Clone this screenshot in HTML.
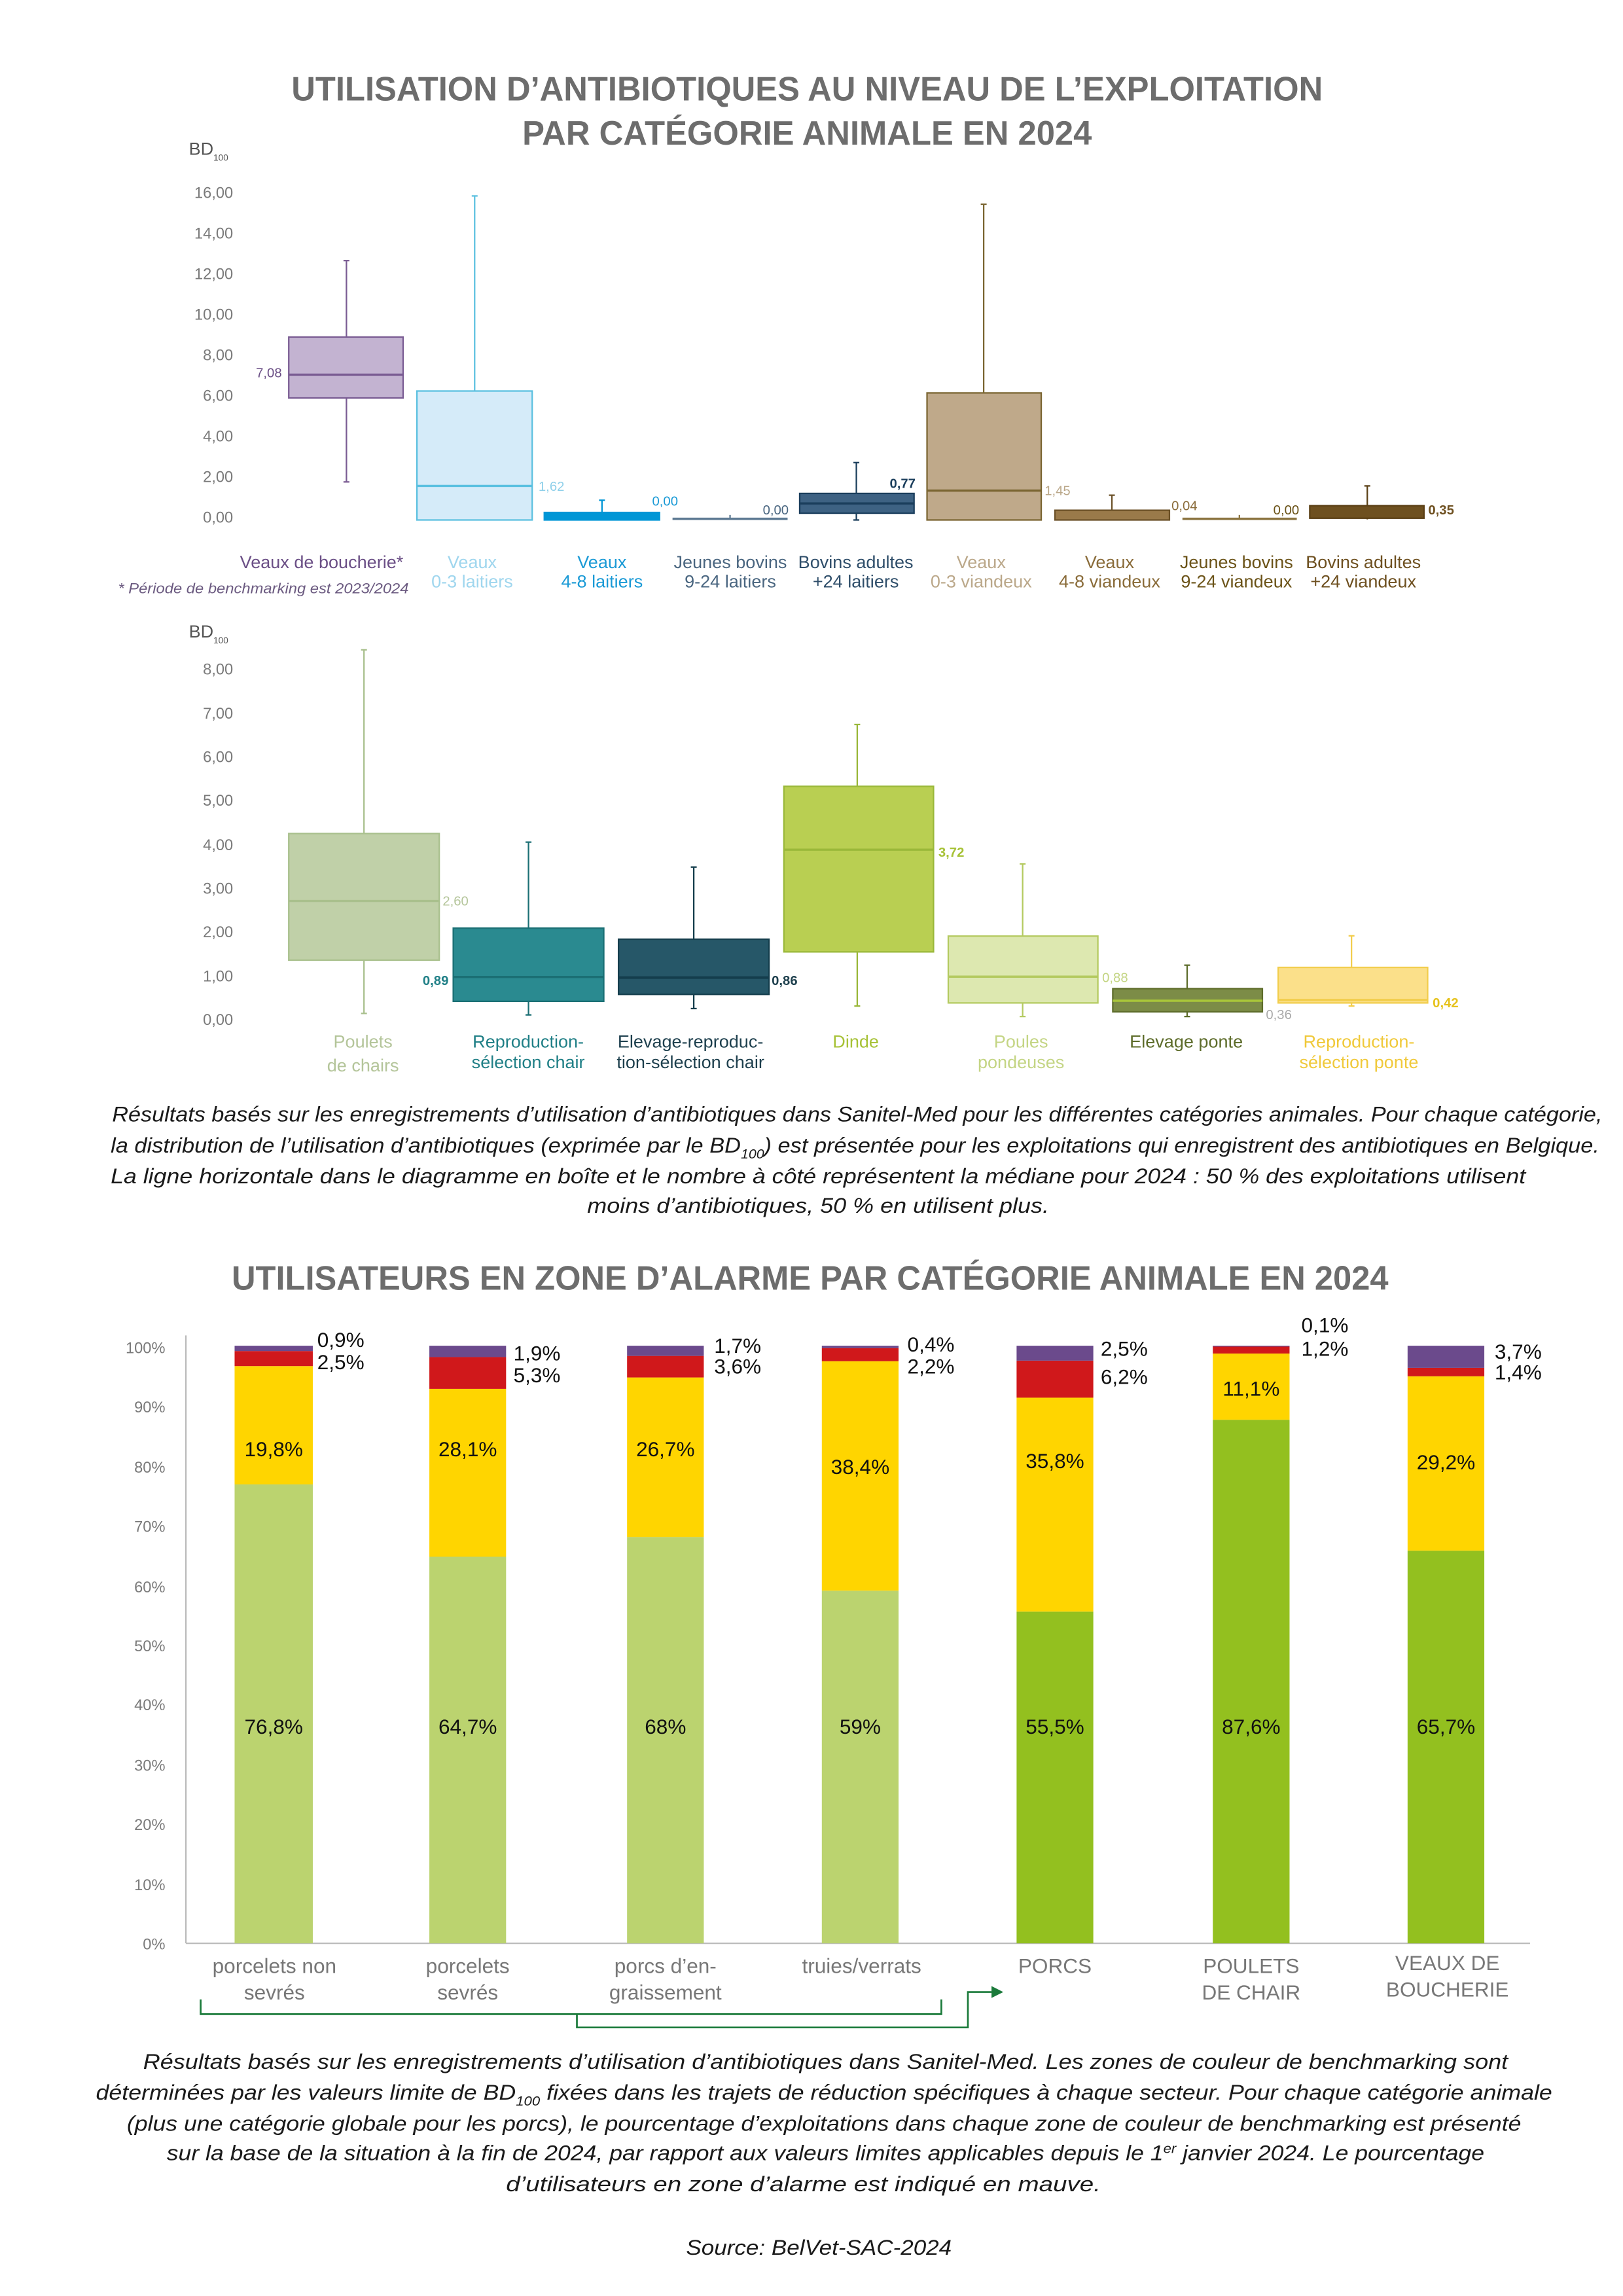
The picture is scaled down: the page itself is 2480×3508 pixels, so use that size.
<!DOCTYPE html>
<html><head><meta charset="utf-8"><style>
html,body{margin:0;padding:0;background:#fff;}
svg{display:block;}
text{font-family:"Liberation Sans Narrow","Liberation Sans",sans-serif;}
.t{font-weight:bold;fill:#6d6d6d;font-size:23px;}
.ax{font-size:10.5px;fill:#7a7a7a;}
.cl{font-size:12px;text-anchor:middle;}
.p{font-style:italic;font-size:14.5px;fill:#1a1a1a;}
.v{font-size:14px;fill:#111;text-anchor:middle;dominant-baseline:central;}
.vl{font-size:14px;fill:#111;dominant-baseline:central;}
.xl{font-size:14px;fill:#777;text-anchor:middle;}
.md{font-size:9px;dominant-baseline:central;}
</style></head><body>
<svg width="2480" height="3508" viewBox="0 0 1100 1556" preserveAspectRatio="none" xmlns="http://www.w3.org/2000/svg">
<rect width="1100" height="1556" fill="#fff"/>
<!-- Title 1 -->
<text class="t" x="547" y="68" text-anchor="middle" textLength="699" lengthAdjust="spacingAndGlyphs">UTILISATION D’ANTIBIOTIQUES AU NIVEAU DE L’EXPLOITATION</text>
<text class="t" x="547" y="98" text-anchor="middle" textLength="386" lengthAdjust="spacingAndGlyphs">PAR CATÉGORIE ANIMALE EN 2024</text>

<!-- Chart 1 axis -->
<text x="128" y="105" font-size="12" fill="#555">BD<tspan font-size="6" dy="4">100</tspan></text>
<g class="ax" text-anchor="end" dominant-baseline="central">
<text x="158" y="131">16,00</text><text x="158" y="158.5">14,00</text><text x="158" y="186">12,00</text><text x="158" y="213.5">10,00</text><text x="158" y="241">8,00</text><text x="158" y="268.5">6,00</text><text x="158" y="296">4,00</text><text x="158" y="323.5">2,00</text><text x="158" y="351">0,00</text>
</g>
<!-- Box1 -->
<g stroke="#7a5c93" stroke-width="1">
<line x1="234.8" y1="176.6" x2="234.8" y2="326.6"/><line x1="232.8" y1="176.6" x2="236.8" y2="176.6"/><line x1="232.8" y1="326.6" x2="236.8" y2="326.6"/>
<rect x="195.7" y="228.4" width="77.5" height="41.3" fill="#c3b3d1"/><line x1="195.7" y1="253.9" x2="273.2" y2="253.9" stroke-width="1.5"/></g>
<text class="md" x="191" y="253" text-anchor="end" fill="#6b4f86">7,08</text>
<!-- Box2 -->
<g stroke="#5bc0e0"><line x1="321.7" y1="132.8" x2="321.7" y2="265"/><line x1="319.7" y1="132.8" x2="323.7" y2="132.8"/>
<rect x="282.6" y="265" width="78.1" height="87.4" fill="#d5ebf9"/><line x1="282.6" y1="329.3" x2="360.7" y2="329.3" stroke-width="1.5"/></g>
<text class="md" x="365" y="330" fill="#8fd0ea">1,62</text>
<!-- Box3 -->
<g stroke="#0096d6"><line x1="408" y1="339" x2="408" y2="347"/><line x1="406" y1="339" x2="410" y2="339"/>
<rect x="368.9" y="347.3" width="78.1" height="5.1" fill="#0096d6"/></g>
<text class="md" x="442" y="340" fill="#1a9ad6">0,00</text>
<!-- Box4 -->
<rect x="455.8" y="350.8" width="78" height="1.6" fill="#5d7a93"/><line x1="494.8" y1="349" x2="494.8" y2="351" stroke="#5d7a93"/>
<text class="md" x="517" y="346" fill="#4a6680">0,00</text>
<!-- Box5 -->
<g stroke="#1b3e5c"><line x1="580.4" y1="313.5" x2="580.4" y2="352.4"/><line x1="578.4" y1="313.5" x2="582.4" y2="313.5"/><line x1="578.4" y1="352.4" x2="582.4" y2="352.4"/>
<rect x="542" y="334.4" width="77.5" height="13.4" fill="#3e6283"/><line x1="542" y1="341.2" x2="619.5" y2="341.2" stroke-width="1.5"/></g>
<text class="md" x="603" y="328" fill="#1b3e5c" font-weight="bold">0,77</text>
<!-- Box6 -->
<g stroke="#7a6531"><line x1="666.7" y1="138.4" x2="666.7" y2="266.3"/><line x1="664.7" y1="138.4" x2="668.7" y2="138.4"/>
<rect x="628.3" y="266.3" width="77.4" height="86.1" fill="#bfa98a"/><line x1="628.3" y1="332.5" x2="705.7" y2="332.5" stroke-width="1.5"/></g>
<text class="md" x="708" y="333" fill="#bba88a">1,45</text>
<!-- Box7 -->
<g stroke="#6b5128"><line x1="753.6" y1="335.6" x2="753.6" y2="345.8"/><line x1="751.6" y1="335.6" x2="755.6" y2="335.6"/>
<rect x="715" y="345.8" width="77.6" height="6.6" fill="#9a7a4a"/></g>
<text class="md" x="794" y="343" fill="#8a6c3a">0,04</text>
<!-- Box8 -->
<rect x="801.4" y="350.8" width="77.5" height="1.6" fill="#8b7440"/><line x1="840" y1="349" x2="840" y2="351" stroke="#8b7440"/>
<text class="md" x="863" y="346" fill="#6b5318">0,00</text>
<!-- Box9 -->
<g stroke="#5a3f14"><line x1="926.7" y1="329.3" x2="926.7" y2="352"/><line x1="924.7" y1="329.3" x2="928.7" y2="329.3"/>
<rect x="887.7" y="342.7" width="77.4" height="8.5" fill="#6e5020"/></g>
<text class="md" x="968" y="346" fill="#6e5020" font-weight="bold">0,35</text>
<!-- categories chart1 -->
<text class="cl" x="218" y="385" fill="#6b4f86">Veaux de boucherie*</text>
<text class="cl" x="320" y="385" fill="#9fd6ee">Veaux</text><text class="cl" x="320" y="398" fill="#9fd6ee">0-3 laitiers</text>
<text class="cl" x="408" y="385" fill="#1a9ad6">Veaux</text><text class="cl" x="408" y="398" fill="#1a9ad6">4-8 laitiers</text>
<text class="cl" x="495" y="385" fill="#4a6680">Jeunes bovins</text><text class="cl" x="495" y="398" fill="#4a6680">9-24 laitiers</text>
<text class="cl" x="580" y="385" fill="#2f4e6a">Bovins adultes</text><text class="cl" x="580" y="398" fill="#2f4e6a">+24 laitiers</text>
<text class="cl" x="665" y="385" fill="#bba88a">Veaux</text><text class="cl" x="665" y="398" fill="#bba88a">0-3 viandeux</text>
<text class="cl" x="752" y="385" fill="#8a6c3a">Veaux</text><text class="cl" x="752" y="398" fill="#8a6c3a">4-8 viandeux</text>
<text class="cl" x="838" y="385" fill="#6b5318">Jeunes bovins</text><text class="cl" x="838" y="398" fill="#6b5318">9-24 viandeux</text>
<text class="cl" x="924" y="385" fill="#6e5020">Bovins adultes</text><text class="cl" x="924" y="398" fill="#6e5020">+24 viandeux</text>
<text x="80" y="402" font-size="10" font-style="italic" fill="#6b5a80" textLength="197" lengthAdjust="spacingAndGlyphs">* Période de benchmarking est 2023/2024</text>

<!-- Chart 2 axis -->
<text x="128" y="432" font-size="12" fill="#555">BD<tspan font-size="6" dy="4">100</tspan></text>
<g class="ax" text-anchor="end" dominant-baseline="central">
<text x="158" y="454">8,00</text><text x="158" y="484">7,00</text><text x="158" y="513.5">6,00</text><text x="158" y="543">5,00</text><text x="158" y="573">4,00</text><text x="158" y="602.5">3,00</text><text x="158" y="632">2,00</text><text x="158" y="662">1,00</text><text x="158" y="691.5">0,00</text>
</g>
<!-- A -->
<g stroke="#a9c08d"><line x1="246.7" y1="440.4" x2="246.7" y2="686.8"/><line x1="244.7" y1="440.4" x2="248.7" y2="440.4"/><line x1="244.7" y1="686.8" x2="248.7" y2="686.8"/>
<rect x="195.7" y="564.9" width="102" height="85.8" fill="#c0d0a8"/><line x1="195.7" y1="610.6" x2="297.7" y2="610.6" stroke-width="1.5"/></g>
<text class="md" x="300" y="611" fill="#b4c59a">2,60</text>
<!-- B -->
<g stroke="#1b6f74"><line x1="358.2" y1="570.7" x2="358.2" y2="687.8"/><line x1="356.2" y1="570.7" x2="360.2" y2="570.7"/><line x1="356.2" y1="687.8" x2="360.2" y2="687.8"/>
<rect x="307.2" y="629" width="102" height="49.6" fill="#2a8a90"/><line x1="307.2" y1="662.1" x2="409.2" y2="662.1" stroke-width="1.5"/></g>
<text class="md" x="304" y="665" text-anchor="end" fill="#1f7f86" font-weight="bold">0,89</text>
<!-- C -->
<g stroke="#143d4c"><line x1="470.2" y1="587.6" x2="470.2" y2="683.5"/><line x1="468.2" y1="587.6" x2="472.2" y2="587.6"/><line x1="468.2" y1="683.5" x2="472.2" y2="683.5"/>
<rect x="419.2" y="636.5" width="102" height="37.4" fill="#265768"/><line x1="419.2" y1="662.5" x2="521.2" y2="662.5" stroke-width="1.8"/></g>
<text class="md" x="523" y="665" fill="#1d3f4d" font-weight="bold">0,86</text>
<!-- D -->
<g stroke="#9ab83a"><line x1="581" y1="491" x2="581" y2="681.8"/><line x1="579" y1="491" x2="583" y2="491"/><line x1="579" y1="681.8" x2="583" y2="681.8"/>
<rect x="531.3" y="532.9" width="101.4" height="112.2" fill="#b9cf52"/><line x1="531.3" y1="575.8" x2="632.7" y2="575.8" stroke-width="1.5"/></g>
<text class="md" x="636" y="578" fill="#a7c237" font-weight="bold">3,72</text>
<!-- E -->
<g stroke="#b4ca60"><line x1="693.1" y1="585.5" x2="693.1" y2="688.9"/><line x1="691.1" y1="585.5" x2="695.1" y2="585.5"/><line x1="691.1" y1="688.9" x2="695.1" y2="688.9"/>
<rect x="642.7" y="634.4" width="101.4" height="45.3" fill="#dde8b0"/><line x1="642.7" y1="661.9" x2="744.1" y2="661.9" stroke-width="1.5"/></g>
<text class="md" x="747" y="663" fill="#c4d584">0,88</text>
<!-- F -->
<g stroke="#5d6c2a"><line x1="804.6" y1="654.1" x2="804.6" y2="688.9"/><line x1="802.6" y1="654.1" x2="806.6" y2="654.1"/><line x1="802.6" y1="688.9" x2="806.6" y2="688.9"/>
<rect x="754.2" y="670" width="101.4" height="15.7" fill="#7c8c47"/><line x1="754.2" y1="678.2" x2="855.6" y2="678.2" stroke="#a9c63a" stroke-width="1.5"/></g>
<text class="md" x="858" y="688" fill="#aaaaaa">0,36</text>
<!-- G -->
<g stroke="#f2cd4c"><line x1="916" y1="634.2" x2="916" y2="681.8"/><line x1="914" y1="634.2" x2="918" y2="634.2"/><line x1="914" y1="681.8" x2="918" y2="681.8"/>
<rect x="866.3" y="655.6" width="101.3" height="24.1" fill="#fbe08a"/><line x1="866.3" y1="677.7" x2="967.6" y2="677.7" stroke-width="1.5"/></g>
<text class="md" x="971" y="680" fill="#e6c21c" font-weight="bold">0,42</text>
<!-- categories chart2 -->
<text class="cl" x="246" y="710" fill="#b4c59a">Poulets</text><text class="cl" x="246" y="726" fill="#b4c59a">de chairs</text>
<text class="cl" x="358" y="710" fill="#1f7f86">Reproduction-</text><text class="cl" x="358" y="724" fill="#1f7f86">sélection chair</text>
<text class="cl" x="468" y="710" fill="#1d3f4d" font-size="11">Elevage-reproduc-</text><text class="cl" x="468" y="724" fill="#1d3f4d" font-size="11">tion-sélection chair</text>
<text class="cl" x="580" y="710" fill="#a7c237">Dinde</text>
<text class="cl" x="692" y="710" fill="#c4d584">Poules</text><text class="cl" x="692" y="724" fill="#c4d584">pondeuses</text>
<text class="cl" x="804" y="710" fill="#5d6c2a">Elevage ponte</text>
<text class="cl" x="921" y="710" fill="#f0c93a">Reproduction-</text><text class="cl" x="921" y="724" fill="#f0c93a">sélection ponte</text>

<!-- Paragraph 1 -->
<text class="p" x="76" y="760" textLength="1010" lengthAdjust="spacingAndGlyphs">Résultats basés sur les enregistrements d’utilisation d’antibiotiques dans Sanitel-Med pour les différentes catégories animales. Pour chaque catégorie,</text>
<text class="p" x="75" y="781" textLength="1009" lengthAdjust="spacingAndGlyphs">la distribution de l’utilisation d’antibiotiques (exprimée par le BD<tspan font-size="9" dy="4">100</tspan><tspan dy="-4">) est présentée pour les exploitations qui enregistrent des antibiotiques en Belgique.</tspan></text>
<text class="p" x="75" y="802" textLength="959" lengthAdjust="spacingAndGlyphs">La ligne horizontale dans le diagramme en boîte et le nombre à côté représentent la médiane pour 2024 : 50 % des exploitations utilisent</text>
<text class="p" x="398" y="822" textLength="313" lengthAdjust="spacingAndGlyphs">moins d’antibiotiques, 50 % en utilisent plus.</text>

<!-- Title 2 -->
<text class="t" x="549" y="874" text-anchor="middle" textLength="784" lengthAdjust="spacingAndGlyphs">UTILISATEURS EN ZONE D’ALARME PAR CATÉGORIE ANIMALE EN 2024</text>

<!-- Chart 3 axes -->
<g class="ax" text-anchor="end" dominant-baseline="central">
<text x="112" y="914">100%</text><text x="112" y="954">90%</text><text x="112" y="995">80%</text><text x="112" y="1035">70%</text><text x="112" y="1076">60%</text><text x="112" y="1116">50%</text><text x="112" y="1156">40%</text><text x="112" y="1197">30%</text><text x="112" y="1237">20%</text><text x="112" y="1278">10%</text><text x="112" y="1318">0%</text>
</g>
<line x1="126" y1="905" x2="126" y2="1317" stroke="#bbb" stroke-width="1"/>
<line x1="126" y1="1317" x2="1037" y2="1317" stroke="#bbb" stroke-width="1"/>
<!-- bars -->
<g>
<rect x="159" y="1006" width="53" height="311" fill="#bbd36f"/><rect x="159" y="925.8" width="53" height="80.2" fill="#ffd500"/><rect x="159" y="915.6" width="53" height="10.2" fill="#d0181b"/><rect x="159" y="912" width="53" height="3.6" fill="#6b4a8c"/>
<rect x="291" y="1055" width="52" height="262" fill="#bbd36f"/><rect x="291" y="941.2" width="52" height="113.8" fill="#ffd500"/><rect x="291" y="919.7" width="52" height="21.5" fill="#d0181b"/><rect x="291" y="912" width="52" height="7.7" fill="#6b4a8c"/>
<rect x="425" y="1041.6" width="52" height="275.4" fill="#bbd36f"/><rect x="425" y="933.5" width="52" height="108.1" fill="#ffd500"/><rect x="425" y="918.9" width="52" height="14.6" fill="#d0181b"/><rect x="425" y="912" width="52" height="6.9" fill="#6b4a8c"/>
<rect x="557" y="1078" width="52" height="239" fill="#bbd36f"/><rect x="557" y="922.5" width="52" height="155.5" fill="#ffd500"/><rect x="557" y="913.6" width="52" height="8.9" fill="#d0181b"/><rect x="557" y="912" width="52" height="1.6" fill="#6b4a8c"/>
<rect x="689" y="1092.2" width="52" height="224.8" fill="#93c01f"/><rect x="689" y="947.2" width="52" height="145" fill="#ffd500"/><rect x="689" y="922.1" width="52" height="25.1" fill="#d0181b"/><rect x="689" y="912" width="52" height="10.1" fill="#6b4a8c"/>
<rect x="822" y="962.2" width="52" height="354.8" fill="#93c01f"/><rect x="822" y="917.3" width="52" height="44.9" fill="#ffd500"/><rect x="822" y="912.4" width="52" height="4.9" fill="#d0181b"/><rect x="822" y="912" width="52" height="0.6" fill="#6b4a8c"/>
<rect x="954" y="1050.9" width="52" height="266.1" fill="#93c01f"/><rect x="954" y="932.7" width="52" height="118.2" fill="#ffd500"/><rect x="954" y="927" width="52" height="5.7" fill="#d0181b"/><rect x="954" y="912" width="52" height="15" fill="#6b4a8c"/>
</g>
<!-- bar labels -->
<text class="v" x="185.5" y="1170">76,8%</text><text class="v" x="317" y="1170">64,7%</text><text class="v" x="451" y="1170">68%</text><text class="v" x="583" y="1170">59%</text><text class="v" x="715" y="1170">55,5%</text><text class="v" x="848" y="1170">87,6%</text><text class="v" x="980" y="1170">65,7%</text>
<text class="v" x="185.5" y="982">19,8%</text><text class="v" x="317" y="982">28,1%</text><text class="v" x="451" y="982">26,7%</text><text class="v" x="583" y="994">38,4%</text><text class="v" x="715" y="990">35,8%</text><text class="v" x="848" y="941">11,1%</text><text class="v" x="980" y="991">29,2%</text>
<text class="vl" x="215" y="908">0,9%</text><text class="vl" x="215" y="923">2,5%</text>
<text class="vl" x="348" y="917">1,9%</text><text class="vl" x="348" y="932">5,3%</text>
<text class="vl" x="484" y="912">1,7%</text><text class="vl" x="484" y="926">3,6%</text>
<text class="vl" x="615" y="911">0,4%</text><text class="vl" x="615" y="926">2,2%</text>
<text class="vl" x="746" y="914">2,5%</text><text class="vl" x="746" y="933">6,2%</text>
<text class="vl" x="882" y="898">0,1%</text><text class="vl" x="882" y="914">1,2%</text>
<text class="vl" x="1013" y="916">3,7%</text><text class="vl" x="1013" y="930">1,4%</text>
<!-- x labels -->
<text class="xl" x="186" y="1337">porcelets non</text><text class="xl" x="186" y="1355">sevrés</text>
<text class="xl" x="317" y="1337">porcelets</text><text class="xl" x="317" y="1355">sevrés</text>
<text class="xl" x="451" y="1337">porcs d’en-</text><text class="xl" x="451" y="1355">graissement</text>
<text class="xl" x="584" y="1337">truies/verrats</text>
<text class="xl" x="715" y="1337">PORCS</text>
<text class="xl" x="848" y="1337">POULETS</text><text class="xl" x="848" y="1355">DE CHAIR</text>
<text class="xl" x="981" y="1335">VEAUX DE</text><text class="xl" x="981" y="1353">BOUCHERIE</text>
<!-- bracket -->
<g stroke="#1a7a3a" stroke-width="1.2" fill="none">
<polyline points="136,1355 136,1365 638,1365 638,1355"/>
<polyline points="391,1365 391,1374 656,1374 656,1350 672,1350"/>
</g>
<polygon points="672,1346 680,1350 672,1354" fill="#1a7a3a"/>

<!-- Paragraph 2 -->
<text class="p" x="97" y="1402" textLength="925" lengthAdjust="spacingAndGlyphs">Résultats basés sur les enregistrements d’utilisation d’antibiotiques dans Sanitel-Med. Les zones de couleur de benchmarking sont</text>
<text class="p" x="65" y="1423" textLength="987" lengthAdjust="spacingAndGlyphs">déterminées par les valeurs limite de BD<tspan font-size="9" dy="4">100</tspan><tspan dy="-4"> fixées dans les trajets de réduction spécifiques à chaque secteur. Pour chaque catégorie animale</tspan></text>
<text class="p" x="86" y="1444" textLength="945" lengthAdjust="spacingAndGlyphs">(plus une catégorie globale pour les porcs), le pourcentage d’exploitations dans chaque zone de couleur de benchmarking est présenté</text>
<text class="p" x="113" y="1464" textLength="893" lengthAdjust="spacingAndGlyphs">sur la base de la situation à la fin de 2024, par rapport aux valeurs limites applicables depuis le 1<tspan font-size="9" dy="-5">er</tspan><tspan dy="5"> janvier 2024. Le pourcentage</tspan></text>
<text class="p" x="343" y="1485" textLength="403" lengthAdjust="spacingAndGlyphs">d’utilisateurs en zone d’alarme est indiqué en mauve.</text>
<text class="p" x="465" y="1528" textLength="180" lengthAdjust="spacingAndGlyphs">Source: BelVet-SAC-2024</text>
</svg>
</body></html>
